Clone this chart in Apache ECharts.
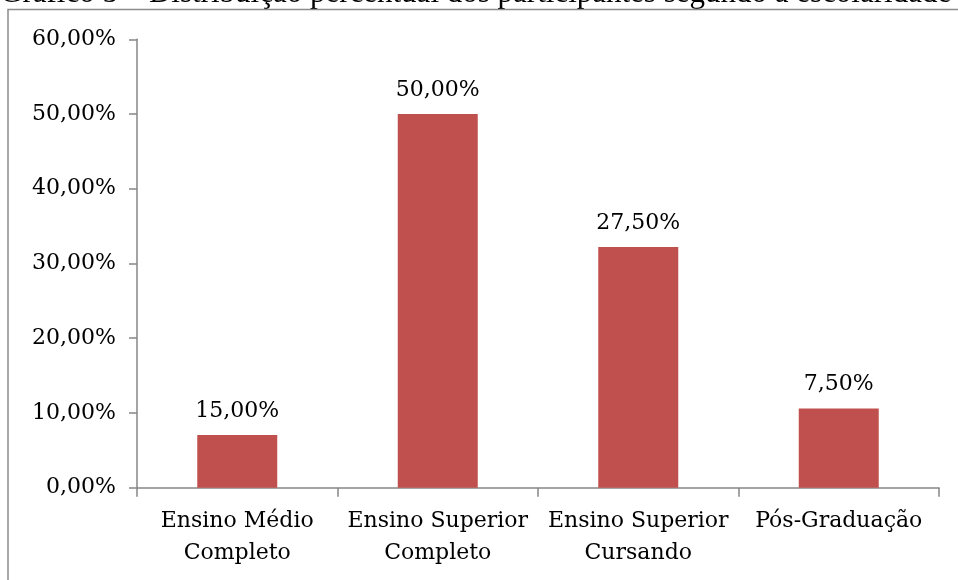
<!DOCTYPE html>
<html>
<head>
<meta charset="utf-8">
<script src="https://cdn.jsdelivr.net/npm/echarts@6/dist/echarts.min.js"></script>
<style>
  html, body { margin: 0; padding: 0; background: #fff; }
  #chart { width: 958px; height: 580px; }
</style>
</head>
<body>
<div id="chart"></div>
<script>
var chart = echarts.init(document.getElementById('chart'));
var option;

// categorias e valores (altura das barras)
const categories = ['Ensino Médio\nCompleto', 'Ensino Superior\nCompleto', 'Ensino Superior\nCursando', 'Pós-Graduação'];
const values = [7.05, 50, 32.2, 10.6];
// rótulos impressos acima das barras
const barLabels = ['15,00%', '50,00%', '27,50%', '7,50%'];
const yTicks = [0, 10, 20, 30, 40, 50, 60];

const font = 'DejaVu Serif';
const axisGray = '#868686';

option = {
  animation: false,
  textStyle: { fontFamily: font },
  graphic: [
    {
      type: 'text',
      x: 0,
      y: -6.5,
      style: {
        text: 'Gráfico 5 – Distribuição percentual dos participantes segundo a escolaridade',
        font: '31px "Liberation Serif"',
        verticalAlign: 'middle',
        fill: '#000'
      }
    },
    {
      type: 'polyline',
      shape: { points: [[8, 580], [8, 9.5], [958, 9.5]] },
      style: { stroke: '#8c8c8c', lineWidth: 1.5, fill: null }
    }
  ],
  grid: {
    left: 137,
    right: 19,
    top: 39.3,
    bottom: 92.3
  },
  xAxis: {
    type: 'category',
    data: categories,
    axisLine: { lineStyle: { color: axisGray, width: 1.5 } },
    axisTick: { show: true, length: 9, lineStyle: { color: axisGray, width: 1.5 } },
    axisLabel: {
      color: '#000',
      fontFamily: font,
      fontSize: 22,
      lineHeight: 32,
      margin: 18,
      interval: 0
    }
  },
  yAxis: {
    type: 'value',
    min: 0,
    max: 60,
    interval: 10,
    splitLine: { show: false },
    axisLine: { show: true, lineStyle: { color: axisGray, width: 1.5 } },
    axisTick: { show: true, length: 8, lineStyle: { color: axisGray, width: 1.5 } },
    axisLabel: {
      color: '#000',
      fontFamily: font,
      fontSize: 22,
      margin: 21,
      formatter: function (v) {
        return yTicks.indexOf(v) >= 0 ? v.toFixed(2).replace('.', ',') + '%' : '';
      }
    }
  },
  series: [
    {
      type: 'bar',
      data: values,
      barWidth: 80,
      itemStyle: { color: '#C0504D' },
      label: {
        show: true,
        position: 'top',
        distance: 13,
        color: '#000',
        fontFamily: font,
        fontSize: 22,
        formatter: function (p) { return barLabels[p.dataIndex]; }
      }
    }
  ]
};

option && chart.setOption(option);
</script>
</body>
</html>
